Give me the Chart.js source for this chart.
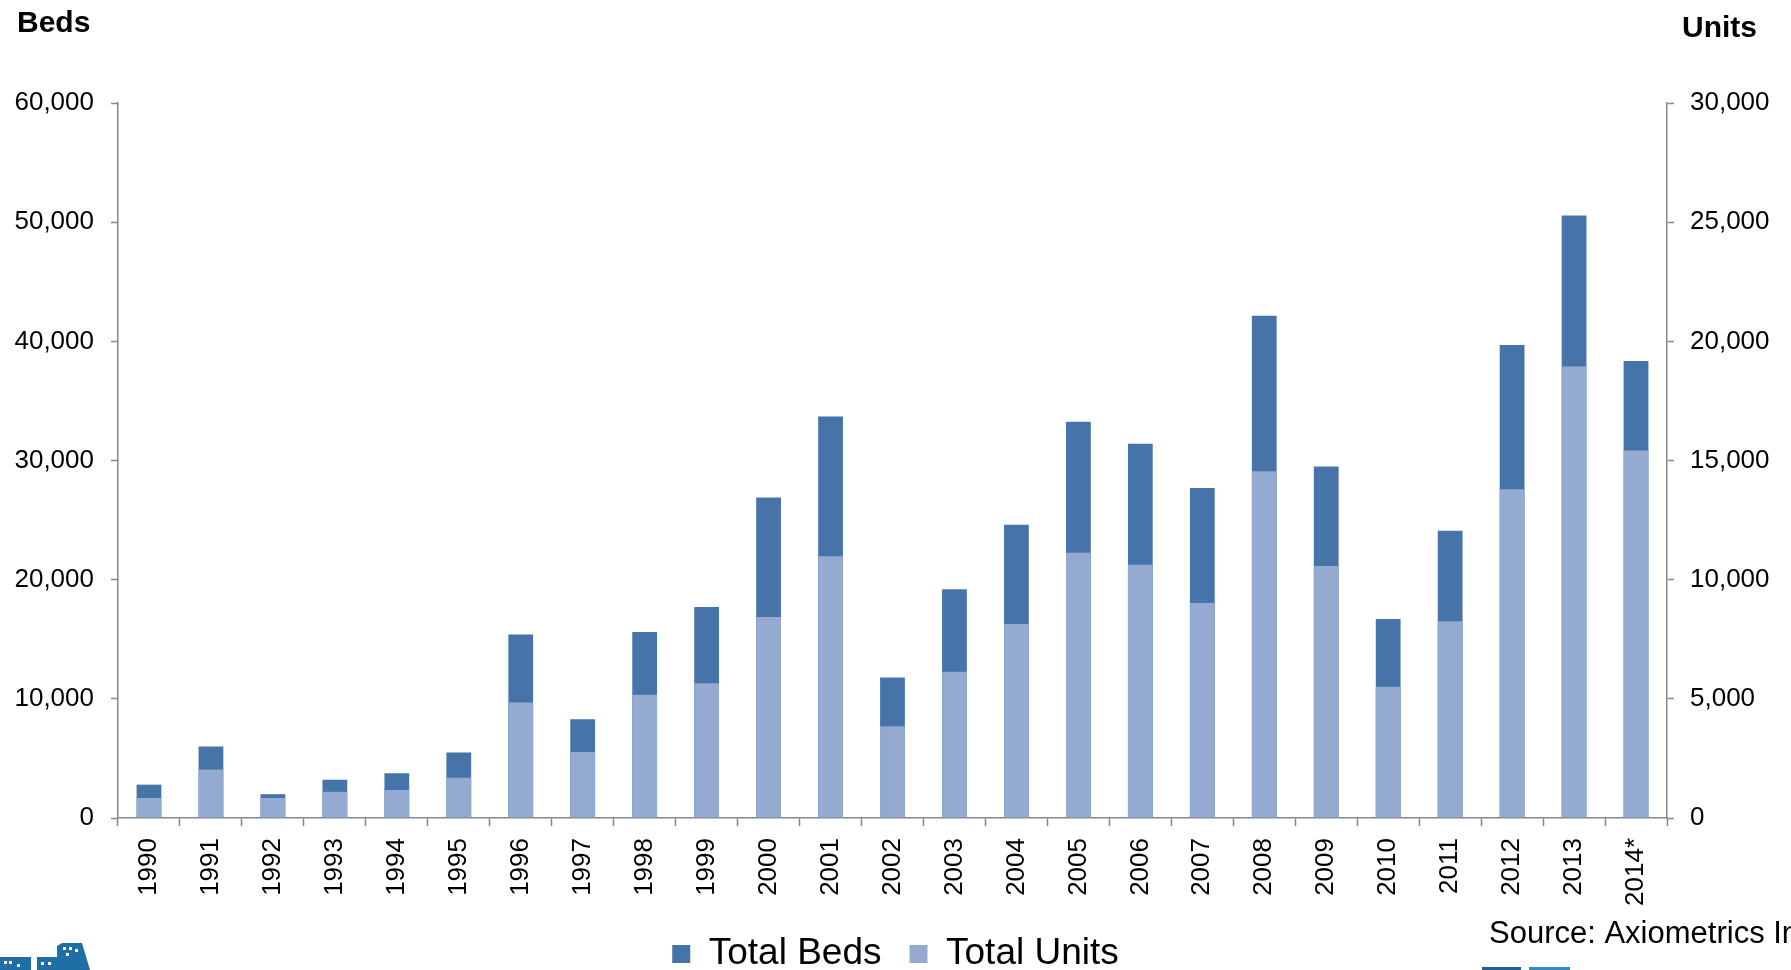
<!DOCTYPE html>
<html>
<head>
<meta charset="utf-8">
<title>Student Housing Deliveries</title>
<script src="https://cdn.jsdelivr.net/npm/chart.js@4.4.1/dist/chart.umd.min.js"></script>
<style>
  html, body { margin: 0; padding: 0; background: #ffffff; overflow: hidden; }
  #wrap { position: relative; width: 1791px; height: 970px; }
  canvas { display: block; }
</style>
</head>
<body>
<div id="wrap"><canvas id="chart" width="1791" height="970"></canvas></div>
<script>
// Years on the category axis
const years = ['1990', '1991', '1992', '1993', '1994', '1995', '1996', '1997', '1998', '1999',
  '2000', '2001', '2002', '2003', '2004', '2005', '2006', '2007', '2008', '2009',
  '2010', '2011', '2012', '2013', '2014*'];

// Beds delivered per year (left axis)
const totalBeds = [2800, 6000, 2000, 3200, 3750, 5500, 15400, 8280, 15600, 17700,
  26900, 33700, 11800, 19200, 24600, 33250, 31400, 27700, 42150, 29500,
  16700, 24100, 39700, 50550, 38350];

// Units delivered per year (right axis)
const totalUnits = [840, 2040, 840, 1100, 1175, 1690, 4850, 2770, 5170, 5650,
  8430, 10980, 3845, 6140, 8140, 11130, 10630, 9020, 14550, 10570,
  5510, 8260, 13790, 18940, 15420];

// Axis ranges
const bedsMax = 60000, bedsStep = 10000;
const unitsMax = 30000, unitsStep = 5000;

const FONT = '"Liberation Sans", Arial, Helvetica, sans-serif';
const AXIS_GREY = '#878787';

// Axis titles, source line and the small logos along the bottom edge
const decorations = {
  id: 'decorations',
  afterDraw(chart) {
    const ctx = chart.ctx;
    ctx.save();
    ctx.fillStyle = '#000000';
    ctx.textBaseline = 'alphabetic';
    ctx.textAlign = 'left';
    ctx.font = 'bold 30px ' + FONT;
    ctx.fillText('Beds', 17, 32);
    ctx.fillText('Units', 1682, 37);

    ctx.font = '31px ' + FONT;
    ctx.fillText('Source: Axiometrics Inc.', 1489, 943);

    // building logo, bottom left
    ctx.fillStyle = '#1f6ea6';
    ctx.fillRect(0, 957, 31, 13);
    ctx.fillRect(37, 957, 22, 13);
    ctx.beginPath();
    ctx.moveTo(57, 970);
    ctx.lineTo(57, 946);
    ctx.lineTo(62, 943);
    ctx.lineTo(82, 943);
    ctx.lineTo(90, 970);
    ctx.closePath();
    ctx.fill();
    ctx.fillStyle = '#ffffff';
    [[4, 961], [9, 961], [17, 964], [41, 962], [48, 962], [63, 947], [69, 947], [75, 949], [66, 953]]
      .forEach(([x, y]) => ctx.fillRect(x, y, 3, 3));

    // logo strip, bottom right
    ctx.fillStyle = '#1d5f9e';
    ctx.fillRect(1482, 967, 39, 3);
    ctx.fillStyle = '#2b8bcc';
    ctx.fillRect(1529, 967, 41, 3);
    ctx.restore();
  }
};

new Chart(document.getElementById('chart'), {
  type: 'bar',
  data: {
    labels: years,
    datasets: [
      {
        label: 'Total Beds',
        data: totalBeds,
        yAxisID: 'y',
        backgroundColor: '#4673a8',
        borderWidth: 0,
        order: 2
      },
      {
        label: 'Total Units',
        data: totalUnits,
        yAxisID: 'y1',
        backgroundColor: '#95aad1',
        borderWidth: 0,
        order: 1
      }
    ]
  },
  options: {
    responsive: false,
    animation: false,
    locale: 'en-US',
    grouped: false,
    barPercentage: 0.4,
    categoryPercentage: 1.0,
    layout: { padding: { top: 103, left: 0, right: 0, bottom: -12.5 } },
    plugins: {
      tooltip: { enabled: false },
      legend: {
        display: true,
        position: 'bottom',
        labels: {
          color: '#000000',
          font: { family: FONT, size: 37 },
          boxWidth: 18,
          boxHeight: 18,
          padding: 28,
          sort: (a, b) => a.datasetIndex - b.datasetIndex
        }
      }
    },
    scales: {
      x: {
        offset: true,
        grid: {
          offset: true,
          display: true,
          drawOnChartArea: false,
          drawTicks: true,
          tickLength: 8,
          tickWidth: 1.5,
          tickColor: AXIS_GREY
        },
        border: { display: true, color: AXIS_GREY, width: 1.5 },
        ticks: {
          color: '#000000',
          font: { family: FONT, size: 26 },
          minRotation: 90,
          maxRotation: 90,
          autoSkip: false,
          padding: 12
        },
        afterFit(scale) { scale.height = 89.5; }
      },
      y: {
        position: 'left',
        min: 0,
        max: bedsMax,
        grid: {
          drawOnChartArea: false,
          drawTicks: true,
          tickLength: 7,
          tickWidth: 1.5,
          tickColor: AXIS_GREY
        },
        border: { display: true, color: AXIS_GREY, width: 1.5 },
        ticks: {
          stepSize: bedsStep,
          color: '#000000',
          font: { family: FONT, size: 26 },
          padding: 17
        },
        afterFit(scale) { scale.width = 118; }
      },
      y1: {
        position: 'right',
        min: 0,
        max: unitsMax,
        grid: {
          drawOnChartArea: false,
          drawTicks: true,
          tickLength: 7,
          tickWidth: 1.5,
          tickColor: AXIS_GREY
        },
        border: { display: true, color: AXIS_GREY, width: 1.5 },
        ticks: {
          stepSize: unitsStep,
          color: '#000000',
          font: { family: FONT, size: 26 },
          padding: 16
        },
        afterFit(scale) { scale.width = 124; }
      }
    }
  },
  plugins: [decorations]
});
</script>
</body>
</html>
